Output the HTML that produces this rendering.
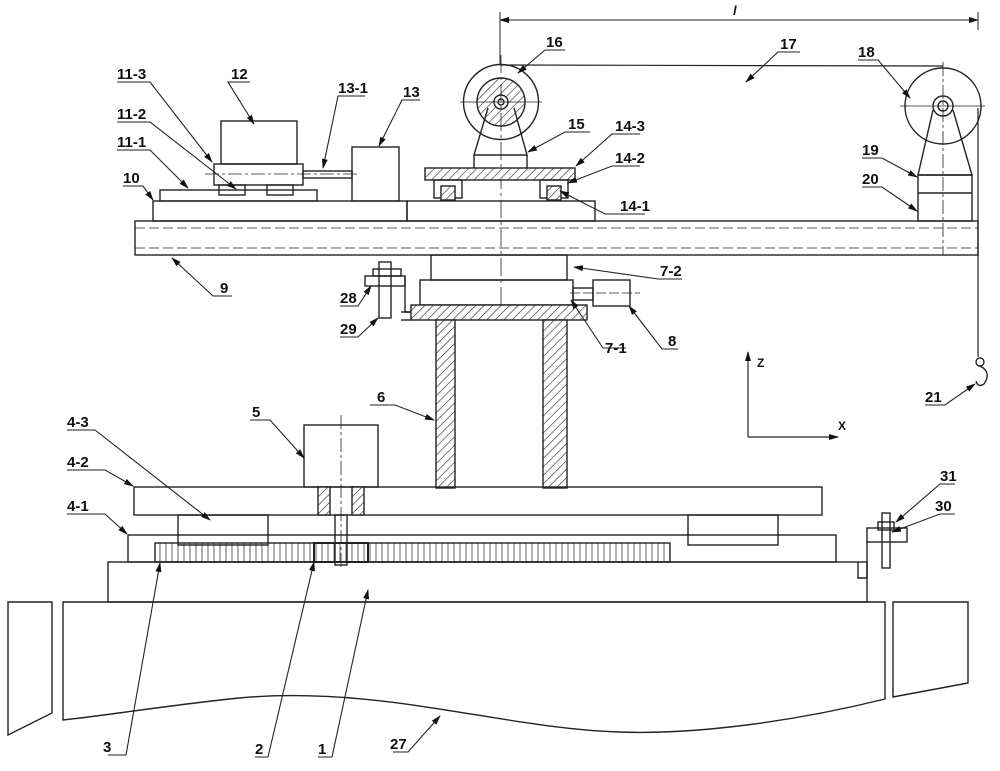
<!DOCTYPE html>
<html><head><meta charset="utf-8"><style>
html,body{margin:0;padding:0;background:#fff}
svg{display:block}
text{font-family:"Liberation Sans Narrow","Liberation Sans",sans-serif;font-weight:bold;font-size:15px;fill:#111}
</style></head><body>
<svg width="1000" height="771" viewBox="0 0 1000 771" xmlns="http://www.w3.org/2000/svg">
<defs>
<pattern id="h" width="6" height="6" patternUnits="userSpaceOnUse" patternTransform="rotate(45)">
<rect width="6" height="6" fill="#fff"/><line x1="0" y1="0" x2="0" y2="6" stroke="#222" stroke-width="1.2"/></pattern>
<marker id="a" markerWidth="10" markerHeight="6" refX="9" refY="3" orient="auto" markerUnits="userSpaceOnUse">
<path d="M0,0 L10,3 L0,6 z" fill="#111"/></marker>
</defs>
<g fill="none" stroke="#222" stroke-width="1.4">
<line x1="500" y1="12" x2="500" y2="65" stroke-width="1"/>
<line x1="978" y1="12" x2="978" y2="30" stroke-width="1"/>
<line x1="500" y1="20" x2="978" y2="20" stroke-width="1" marker-end="url(#a)"/>
<line x1="978" y1="20" x2="500" y2="20" stroke-width="1" marker-end="url(#a)"/>
<line x1="500" y1="65" x2="943" y2="66" stroke-width="1.2"/>
<line x1="978" y1="108" x2="978" y2="357" stroke-width="1.2"/>
<circle cx="980" cy="362" r="4"/>
<path d="M980,366 q12,6 4,18 q-6,4 -8,-3"/>
<circle cx="501" cy="102" r="37.5"/>
<circle cx="501" cy="102" r="24" fill="url(#h)"/>
<circle cx="501" cy="102" r="7" fill="#fff"/>
<circle cx="501" cy="102" r="3"/>
<path d="M488,108 L474,155 L527,155 L514,108" fill="none"/>
<line x1="474" y1="155" x2="474" y2="168"/><line x1="527" y1="155" x2="527" y2="168"/>
<line x1="460" y1="102" x2="542" y2="102" stroke-width="0.8"/>
<line x1="501" y1="55" x2="501" y2="320" stroke-width="0.8" stroke-dasharray="18,4,3,4"/>
<rect x="425" y="168" width="150" height="12" fill="url(#h)"/>
<rect x="434" y="180" width="28" height="18"/>
<rect x="540" y="180" width="28" height="18"/>
<rect x="441" y="186" width="14" height="14" fill="url(#h)"/>
<rect x="547" y="186" width="14" height="14" fill="url(#h)"/>
<rect x="153" y="201" width="254" height="20"/>
<rect x="407" y="201" width="188" height="20"/>
<rect x="160" y="190" width="157" height="11"/>
<rect x="219" y="185" width="26" height="10"/>
<rect x="267" y="185" width="26" height="10"/>
<rect x="214" y="164" width="89" height="21"/>
<rect x="221" y="121" width="76" height="43"/>
<rect x="303" y="171" width="49" height="7"/>
<rect x="352" y="147" width="47" height="54"/>
<line x1="205" y1="174" x2="360" y2="174" stroke-width="0.8" stroke-dasharray="14,3,3,3"/>
<rect x="135" y="221" width="843" height="34"/>
<line x1="135" y1="228" x2="978" y2="228" stroke-width="0.8" stroke-dasharray="10,4"/>
<line x1="135" y1="248" x2="978" y2="248" stroke-width="0.8" stroke-dasharray="10,4"/>
<circle cx="943" cy="106" r="38"/>
<circle cx="943" cy="106" r="10"/><circle cx="943" cy="106" r="5"/>
<path d="M933,110 L918,175 L972,175 L953,110"/>
<rect x="918" y="175" width="54" height="46"/>
<line x1="918" y1="193" x2="972" y2="193"/>
<line x1="900" y1="106" x2="985" y2="106" stroke-width="0.8"/>
<line x1="943" y1="62" x2="943" y2="255" stroke-width="0.8" stroke-dasharray="14,3,3,3"/>
<rect x="431" y="255" width="136" height="25"/>
<rect x="420" y="280" width="153" height="25"/>
<rect x="411" y="305" width="176" height="15" fill="url(#h)"/>
<rect x="436" y="320" width="19" height="168" fill="url(#h)"/>
<rect x="543" y="320" width="24" height="168" fill="url(#h)"/>
<line x1="401" y1="312" x2="411" y2="312"/><line x1="401" y1="320" x2="411" y2="320"/>
<rect x="573" y="288" width="20" height="12"/>
<rect x="593" y="280" width="37" height="26"/>
<line x1="570" y1="293" x2="640" y2="293" stroke-width="0.8" stroke-dasharray="10,3"/>
<rect x="373" y="269" width="28" height="7"/>
<rect x="365" y="276" width="40" height="10"/>
<rect x="379" y="262" width="12" height="56"/>
<path d="M405,276 L405,312 L411,312"/>
<line x1="748" y1="437" x2="748" y2="352" stroke-width="1.2" marker-end="url(#a)"/>
<line x1="748" y1="437" x2="838" y2="437" stroke-width="1.2" marker-end="url(#a)"/>
<rect x="304" y="425" width="74" height="62"/>
<line x1="341" y1="415" x2="341" y2="570" stroke-width="0.8" stroke-dasharray="14,3,3,3"/>
<rect x="134" y="487" width="688" height="28"/>
<rect x="318" y="487" width="12" height="28" fill="url(#h)"/>
<rect x="352" y="487" width="12" height="28" fill="url(#h)"/>
<rect x="335" y="515" width="12" height="50"/>
<rect x="178" y="515" width="90" height="30"/>
<rect x="688" y="515" width="90" height="30"/>
<rect x="128" y="535" width="708" height="27"/>
<rect x="155" y="543" width="515" height="19"/>
<rect x="314" y="543" width="54" height="19" stroke-width="2"/>
<rect x="108" y="562" width="759" height="40"/>
<rect x="882" y="513" width="8" height="55"/>
<rect x="878" y="522" width="16" height="8"/>
<rect x="867" y="528" width="40" height="14"/>
<path d="M867,542 L867,578 L858,578 L858,562"/>
<path d="M63,602 L885,602 L885,699 C800,720 700,735 619,732 C500,728 380,685 239,698 C170,705 110,715 63,720 Z"/>
<path d="M8,602 L52,602 L52,713 L8,735 Z"/>
<path d="M893,602 L968,602 L968,683 L893,697 Z"/>
<g stroke-width="1.1">
<path d="M117,82 L150,82 L212,162" marker-end="url(#a)"/>
<path d="M117,122 L150,122 L236,189" marker-end="url(#a)"/>
<path d="M117,150 L150,150 L188,188" marker-end="url(#a)"/>
<path d="M123,186 L143,186 L153,200" marker-end="url(#a)"/>
<path d="M250,82 L228,82 L254,124" marker-end="url(#a)"/>
<path d="M365,96 L338,96 L323,168" marker-end="url(#a)"/>
<path d="M420,100 L402,100 L379,146" marker-end="url(#a)"/>
<path d="M565,50 L545,50 L518,73" marker-end="url(#a)"/>
<path d="M800,52 L778,52 L746,82" marker-end="url(#a)"/>
<path d="M858,60 L878,60 L910,98" marker-end="url(#a)"/>
<path d="M590,132 L565,132 L528,152" marker-end="url(#a)"/>
<path d="M640,134 L612,134 L576,166" marker-end="url(#a)"/>
<path d="M640,166 L612,166 L568,183" marker-end="url(#a)"/>
<path d="M645,214 L605,214 L560,191" marker-end="url(#a)"/>
<path d="M862,158 L882,158 L917,177" marker-end="url(#a)"/>
<path d="M862,187 L882,187 L917,211" marker-end="url(#a)"/>
<path d="M232,296 L213,296 L172,258" marker-end="url(#a)"/>
<path d="M682,279 L658,279 L574,267" marker-end="url(#a)"/>
<path d="M340,306 L358,306 L371,286" marker-end="url(#a)"/>
<path d="M340,337 L358,337 L378,318" marker-end="url(#a)"/>
<path d="M626,348 L603,348 L571,300" marker-end="url(#a)"/>
<path d="M678,349 L662,349 L629,306" marker-end="url(#a)"/>
<path d="M925,405 L945,405 L975,384" marker-end="url(#a)"/>
<path d="M370,405 L395,405 L434,420" marker-end="url(#a)"/>
<path d="M250,420 L270,420 L304,458" marker-end="url(#a)"/>
<path d="M67,430 L95,430 L210,520" marker-end="url(#a)"/>
<path d="M67,470 L105,470 L133,486" marker-end="url(#a)"/>
<path d="M67,514 L105,514 L127,534" marker-end="url(#a)"/>
<path d="M955,484 L940,484 L896,522" marker-end="url(#a)"/>
<path d="M955,514 L940,514 L892,532" marker-end="url(#a)"/>
<path d="M108,755 L126,755 L160,563" marker-end="url(#a)"/>
<path d="M255,757 L268,757 L314,562" marker-end="url(#a)"/>
<path d="M318,757 L332,757 L368,590" marker-end="url(#a)"/>
<path d="M393,752 L408,752 L440,716" marker-end="url(#a)"/>
</g>
</g>
<g stroke="#222" stroke-width="0.7">
<line x1="160" y1="543" x2="160" y2="562"/><line x1="166" y1="543" x2="166" y2="562"/><line x1="172" y1="543" x2="172" y2="562"/><line x1="178" y1="543" x2="178" y2="562"/><line x1="184" y1="543" x2="184" y2="562"/><line x1="190" y1="543" x2="190" y2="562"/><line x1="196" y1="543" x2="196" y2="562"/><line x1="202" y1="543" x2="202" y2="562"/><line x1="208" y1="543" x2="208" y2="562"/><line x1="214" y1="543" x2="214" y2="562"/><line x1="220" y1="543" x2="220" y2="562"/><line x1="226" y1="543" x2="226" y2="562"/><line x1="232" y1="543" x2="232" y2="562"/><line x1="238" y1="543" x2="238" y2="562"/><line x1="244" y1="543" x2="244" y2="562"/><line x1="250" y1="543" x2="250" y2="562"/><line x1="256" y1="543" x2="256" y2="562"/><line x1="262" y1="543" x2="262" y2="562"/><line x1="268" y1="543" x2="268" y2="562"/><line x1="274" y1="543" x2="274" y2="562"/><line x1="280" y1="543" x2="280" y2="562"/><line x1="286" y1="543" x2="286" y2="562"/><line x1="292" y1="543" x2="292" y2="562"/><line x1="298" y1="543" x2="298" y2="562"/><line x1="304" y1="543" x2="304" y2="562"/><line x1="310" y1="543" x2="310" y2="562"/><line x1="316" y1="543" x2="316" y2="562"/><line x1="322" y1="543" x2="322" y2="562"/><line x1="328" y1="543" x2="328" y2="562"/><line x1="334" y1="543" x2="334" y2="562"/><line x1="340" y1="543" x2="340" y2="562"/><line x1="346" y1="543" x2="346" y2="562"/><line x1="352" y1="543" x2="352" y2="562"/><line x1="358" y1="543" x2="358" y2="562"/><line x1="364" y1="543" x2="364" y2="562"/><line x1="370" y1="543" x2="370" y2="562"/><line x1="376" y1="543" x2="376" y2="562"/><line x1="382" y1="543" x2="382" y2="562"/><line x1="388" y1="543" x2="388" y2="562"/><line x1="394" y1="543" x2="394" y2="562"/><line x1="400" y1="543" x2="400" y2="562"/><line x1="406" y1="543" x2="406" y2="562"/><line x1="412" y1="543" x2="412" y2="562"/><line x1="418" y1="543" x2="418" y2="562"/><line x1="424" y1="543" x2="424" y2="562"/><line x1="430" y1="543" x2="430" y2="562"/><line x1="436" y1="543" x2="436" y2="562"/><line x1="442" y1="543" x2="442" y2="562"/><line x1="448" y1="543" x2="448" y2="562"/><line x1="454" y1="543" x2="454" y2="562"/><line x1="460" y1="543" x2="460" y2="562"/><line x1="466" y1="543" x2="466" y2="562"/><line x1="472" y1="543" x2="472" y2="562"/><line x1="478" y1="543" x2="478" y2="562"/><line x1="484" y1="543" x2="484" y2="562"/><line x1="490" y1="543" x2="490" y2="562"/><line x1="496" y1="543" x2="496" y2="562"/><line x1="502" y1="543" x2="502" y2="562"/><line x1="508" y1="543" x2="508" y2="562"/><line x1="514" y1="543" x2="514" y2="562"/><line x1="520" y1="543" x2="520" y2="562"/><line x1="526" y1="543" x2="526" y2="562"/><line x1="532" y1="543" x2="532" y2="562"/><line x1="538" y1="543" x2="538" y2="562"/><line x1="544" y1="543" x2="544" y2="562"/><line x1="550" y1="543" x2="550" y2="562"/><line x1="556" y1="543" x2="556" y2="562"/><line x1="562" y1="543" x2="562" y2="562"/><line x1="568" y1="543" x2="568" y2="562"/><line x1="574" y1="543" x2="574" y2="562"/><line x1="580" y1="543" x2="580" y2="562"/><line x1="586" y1="543" x2="586" y2="562"/><line x1="592" y1="543" x2="592" y2="562"/><line x1="598" y1="543" x2="598" y2="562"/><line x1="604" y1="543" x2="604" y2="562"/><line x1="610" y1="543" x2="610" y2="562"/><line x1="616" y1="543" x2="616" y2="562"/><line x1="622" y1="543" x2="622" y2="562"/><line x1="628" y1="543" x2="628" y2="562"/><line x1="634" y1="543" x2="634" y2="562"/><line x1="640" y1="543" x2="640" y2="562"/><line x1="646" y1="543" x2="646" y2="562"/><line x1="652" y1="543" x2="652" y2="562"/><line x1="658" y1="543" x2="658" y2="562"/><line x1="664" y1="543" x2="664" y2="562"/>
</g>
<text x="117" y="79">11-3</text><text x="117" y="119">11-2</text><text x="117" y="147">11-1</text>
<text x="123" y="183">10</text><text x="231" y="79">12</text><text x="338" y="93">13-1</text>
<text x="403" y="97">13</text><text x="546" y="47">16</text><text x="780" y="49">17</text>
<text x="858" y="57">18</text><text x="568" y="129">15</text><text x="615" y="131">14-3</text>
<text x="615" y="163">14-2</text><text x="620" y="211">14-1</text><text x="862" y="155">19</text>
<text x="862" y="184">20</text><text x="220" y="293">9</text><text x="660" y="276">7-2</text>
<text x="340" y="303">28</text><text x="340" y="334">29</text><text x="605" y="353">7-1</text>
<text x="668" y="346">8</text><text x="925" y="402">21</text><text x="377" y="402">6</text>
<text x="252" y="417">5</text><text x="67" y="427">4-3</text><text x="67" y="467">4-2</text>
<text x="67" y="511">4-1</text><text x="940" y="481">31</text><text x="935" y="511">30</text>
<text x="103" y="752">3</text><text x="255" y="754">2</text><text x="318" y="754">1</text>
<text x="390" y="749">27</text>
<text x="757" y="367" style="font-size:12px">Z</text><text x="838" y="430" style="font-size:12px">X</text>
<text x="733" y="15" style="font-style:italic;font-size:13px">l</text>
</svg>
</body></html>
